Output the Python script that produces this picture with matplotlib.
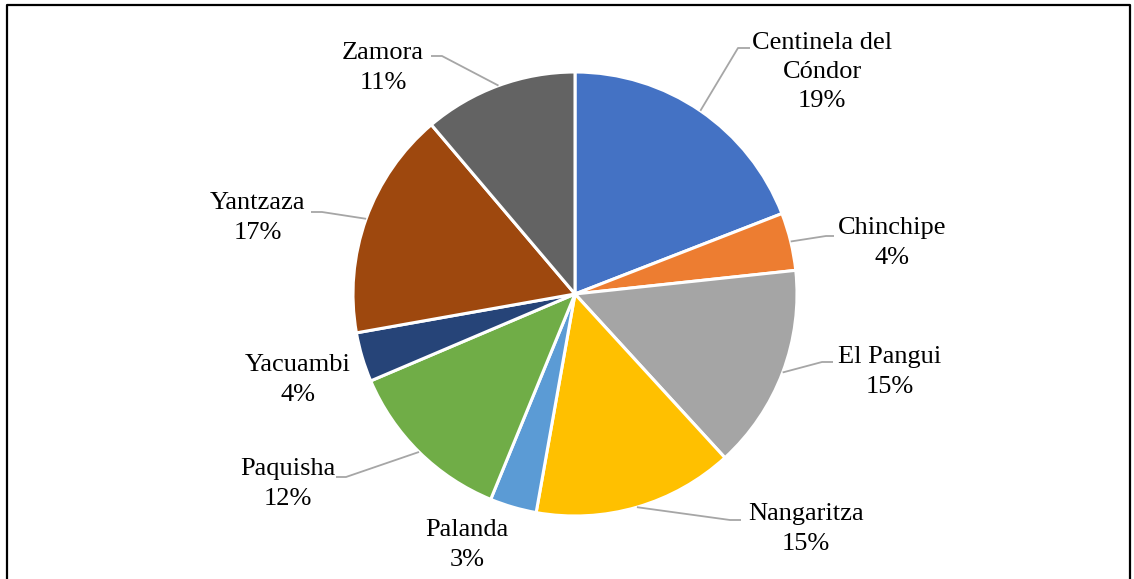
import matplotlib
matplotlib.use("Agg")
import matplotlib.pyplot as plt
import numpy as np

# datos del gráfico (porcentajes por cantón)
cantones = ["Centinela del\nCóndor", "Chinchipe", "El Pangui", "Nangaritza", "Palanda",
            "Paquisha", "Yacuambi", "Yantzaza", "Zamora"]
porcentajes = [19.1, 4.2, 14.9, 14.6, 3.4, 12.4, 3.6, 16.6, 11.2]
colores = ["#4472C4", "#ED7D31", "#A5A5A5", "#FFC000", "#5B9BD5",
           "#70AD47", "#264478", "#9E480E", "#636363"]

# posiciones de etiquetas en pixeles (x, y desde arriba) y codo de la línea guía
pos_etiquetas = [(822, 72), (892, 243), (890, 372), (806, 529), (467, 545),
                 (288, 484), (298, 380), (258, 218), (383, 68)]
codos = [(738, 48, 750), (826, 236, 834), (822, 362, 833), (730, 520, 741), None,
         (346, 477, 336), None, (322, 212, 311), (442, 56, 431)]

W, H = 1134, 579
fig = plt.figure(figsize=(W / 100, H / 100), dpi=100)
ax = fig.add_axes([0, 0, 1, 1])

cx, cy, r = 575, H - 294, 222
wedges, _ = ax.pie(porcentajes, colors=colores, startangle=90, counterclock=False,
                   center=(cx, cy), radius=r,
                   wedgeprops=dict(edgecolor="white", linewidth=2.2))
ax.set_xlim(0, W)
ax.set_ylim(0, H)
ax.axis("off")

for i, w in enumerate(wedges):
    nombre = cantones[i]
    pct = "%d%%" % round(porcentajes[i])
    lx, ly = pos_etiquetas[i]
    ax.text(lx, H - ly, nombre + "\n" + pct, ha="center", va="center",
            fontsize=19, family="Liberation Serif", linespacing=1.42, color="black")
    if codos[i] is not None:
        ang = np.deg2rad((w.theta1 + w.theta2) / 2)
        px, py = cx + r * np.cos(ang), cy + r * np.sin(ang)
        ex, ey, fx = codos[i]
        ax.plot([px, ex, fx], [py, H - ey, H - ey], color="#A6A6A6", lw=1.3,
                solid_capstyle="butt")

# marco exterior
fig.add_artist(plt.Line2D([6.5 / W, 6.5 / W, 1129.5 / W, 1129.5 / W],
                          [0, 1 - 5 / H, 1 - 5 / H, 0],
                          transform=fig.transFigure, color="black", lw=1.6))

fig.savefig("out.png", dpi=100)
